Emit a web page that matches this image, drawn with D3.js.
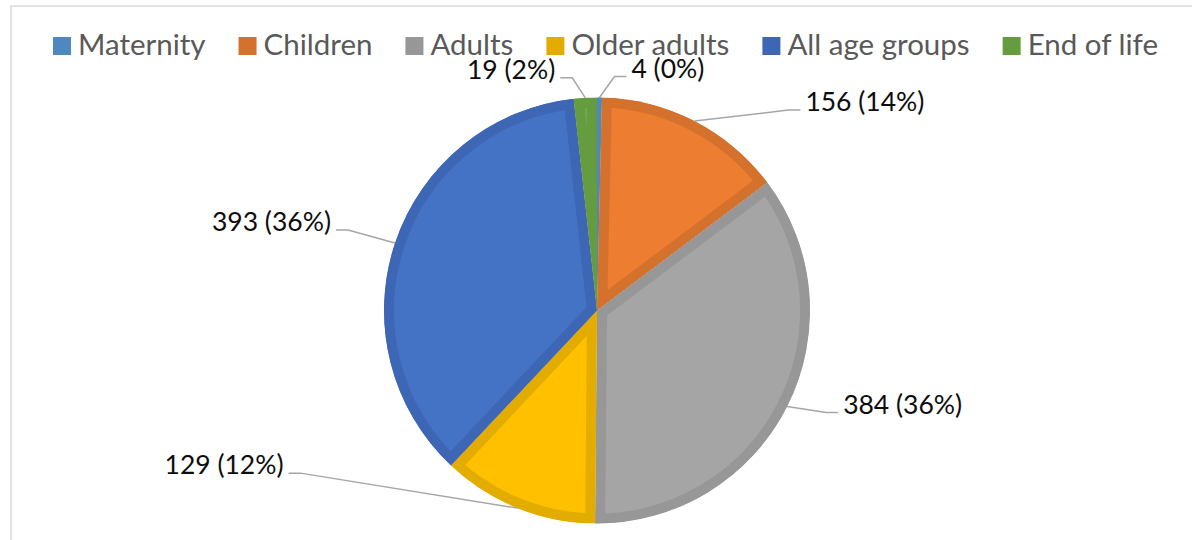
<!DOCTYPE html>
<html>
<head>
<meta charset="utf-8">
<script src="https://cdn.jsdelivr.net/npm/d3@7"></script>
<style>
  html, body { margin: 0; padding: 0; background: #ffffff; }
  svg { display: block; }
</style>
</head>
<body>
<svg id="chart" width="1192" height="540"></svg>
<script>
// ---- data ----
const categories = ["Maternity", "Children", "Adults", "Older adults", "All age groups", "End of life"];
const values = [4, 156, 384, 129, 393, 19];
const percentLabels = ["0%", "14%", "36%", "12%", "36%", "2%"];

// ---- styling / layout (not data) ----
const fillColors = ["#5B9BD5", "#ED7D31", "#A5A5A5", "#FFC000", "#4472C4", "#70AD47"];
const borderColors = ["#4F87BF", "#D4712C", "#979797", "#E3AC00", "#3D67B5", "#659C40"];
// leader attach point offsets relative to the slice's outer mid-point
const labelOffsets = [[27, -21], [106, -11], [51, 6], [-229, -35], [-59, -13], [-25, -20]];

const W = 1192, H = 540;
const cx = 597, cy = 310.5, R = 213;
const svg = d3.select("#chart");

// chart border (clipped by the frame on right/bottom)
svg.append("rect")
  .attr("x", 11).attr("y", 6).attr("width", 1300).attr("height", 700)
  .attr("fill", "#ffffff").attr("stroke", "#d9d9d9").attr("stroke-width", 1.5);

const pie = d3.pie().sort(null).value(d => d)(values);
const arc = d3.arc().innerRadius(0).outerRadius(R);

const defs = svg.append("defs");
const g = svg.append("g").attr("transform", `translate(${cx},${cy})`);

pie.forEach((p, i) => {
  const id = "clip" + i;
  defs.append("clipPath").attr("id", id)
    .append("path").attr("d", arc(p));
  g.append("path")
    .attr("d", arc(p))
    .attr("fill", fillColors[i])
    .attr("stroke", borderColors[i])
    .attr("stroke-width", 20)
    .attr("stroke-linejoin", "miter")
    .attr("clip-path", `url(#${id})`);
});

// labels with leader lines
const labelFont = "Lato, 'Open Sans', sans-serif";
pie.forEach((p, i) => {
  const mid = (p.startAngle + p.endAngle) / 2;
  const ex = cx + R * Math.sin(mid), ey = cy - R * Math.cos(mid);
  const ax = ex + labelOffsets[i][0], ay = ey + labelOffsets[i][1];
  const right = labelOffsets[i][0] > 0;
  const elbowX = right ? ax - 12 : ax + 12;
  svg.append("path")
    .attr("d", `M${ex},${ey}L${elbowX},${ay}L${ax},${ay}`)
    .attr("fill", "none").attr("stroke", "#a6a6a6").attr("stroke-width", 1.5);
  svg.append("text")
    .attr("x", right ? ax + 5 : ax - 5)
    .attr("y", ay + 1)
    .attr("text-anchor", right ? "start" : "end")
    .attr("font-family", labelFont)
    .attr("font-size", 26.5)
    .attr("fill", "#0d0d0d")
    .text(`${values[i]} (${percentLabels[i]})`);
});

// legend
const legend = svg.append("g");
let x = 0;
categories.forEach((c, i) => {
  const it = legend.append("g");
  it.append("rect").attr("x", 0).attr("y", 37).attr("width", 18).attr("height", 18)
    .attr("fill", borderColors[i]);
  const t = it.append("text").attr("x", 25).attr("y", 55)
    .attr("font-family", labelFont).attr("font-size", 29.5)
    .attr("fill", "#595959").text(c);
  const w = t.node().getComputedTextLength();
  it.attr("transform", `translate(${x},0)`);
  x += 25 + w + 33;
});
const totalW = x - 33;
legend.attr("transform", `translate(${605.5 - totalW / 2},0)`);
</script>
</body>
</html>
